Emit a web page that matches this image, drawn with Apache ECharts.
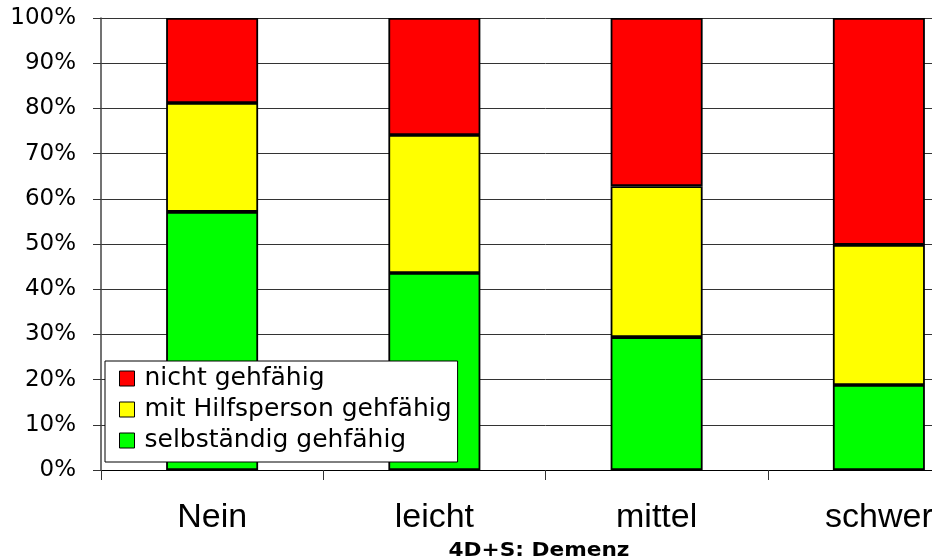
<!DOCTYPE html>
<html>
<head>
<meta charset="utf-8">
<script src="https://cdn.jsdelivr.net/npm/echarts@6/dist/echarts.min.js"></script>
<style>
  html, body { margin: 0; padding: 0; background: #fff; overflow: hidden; }
  /* the plot runs past the right edge of the page, so the canvas is wider than the window */
  #chart { width: 1000px; height: 559px; }
</style>
</head>
<body>
<div id="chart"></div>
<script>
// Demenz-Schweregrad (4D+S) und Gehfähigkeit, Anteile in Prozent
const categories = ['Nein', 'leicht', 'mittel', 'schwer'];
const selbstaendig = [57.1, 43.6, 29.4, 18.8];
const mitHilfsperson = [24.1, 30.5, 33.4, 31.0];
const nichtGehfaehig = [18.8, 25.9, 37.2, 50.2];
const yTicks = [0, 10, 20, 30, 40, 50, 60, 70, 80, 90, 100];

const SANS = 'Liberation Sans, Arial, Helvetica, sans-serif';
const WIDE = 'DejaVu Sans, Verdana, sans-serif';

const chart = echarts.init(document.getElementById('chart'), null, { renderer: 'canvas' });

function barSeries(name, data, color) {
  return {
    name: name,
    type: 'bar',
    stack: 'gesamt',
    data: data,
    barWidth: 92,
    itemStyle: { color: color, borderColor: '#000', borderWidth: 1.8 },
    emphasis: { disabled: true }
  };
}

chart.setOption({
  animation: false,
  backgroundColor: '#ffffff',
  grid: { left: 101, top: 18, width: 889, height: 452, containLabel: false },
  legend: {
    orient: 'vertical',
    left: 105,
    top: 361,
    data: ['nicht gehfähig', 'mit Hilfsperson gehfähig', 'selbständig gehfähig'],
    backgroundColor: '#ffffff',
    borderColor: '#000',
    borderWidth: 1,
    borderRadius: 0,
    padding: [5, 6, 9, 14],
    itemGap: 6,
    itemWidth: 15,
    itemHeight: 15,
    icon: 'rect',
    itemStyle: { borderColor: '#000', borderWidth: 1 },
    textStyle: { fontFamily: WIDE, fontSize: 25, color: '#000', padding: [0, 0, 0, 5] }
  },
  xAxis: {
    type: 'category',
    data: categories,
    axisLine: { lineStyle: { color: '#000', width: 1 } },
    axisTick: { show: true, length: 10, lineStyle: { color: '#333' } },
    axisLabel: { fontFamily: SANS, fontSize: 34, color: '#000', margin: 31 },
    splitLine: { show: false }
  },
  yAxis: {
    type: 'value',
    min: 0,
    max: 100,
    interval: 10,
    axisLine: { show: true, lineStyle: { color: '#444', width: 1.5 } },
    axisTick: { show: true, length: 8, lineStyle: { color: '#333' } },
    axisLabel: {
      fontFamily: WIDE, fontSize: 23, color: '#000', margin: 25,
      formatter: function (v) { return yTicks.indexOf(v) >= 0 ? v + '%' : ''; }
    },
    splitLine: { show: true, lineStyle: { color: '#333', width: 1 } }
  },
  series: [
    barSeries('selbständig gehfähig', selbstaendig, '#00ff00'),
    barSeries('mit Hilfsperson gehfähig', mitHilfsperson, '#ffff00'),
    barSeries('nicht gehfähig', nichtGehfaehig, '#ff0000')
  ],
  graphic: [{
    type: 'text',
    x: 539,
    y: 551,
    scaleX: 1.14,
    style: {
      text: '4D+S: Demenz',
      fontFamily: WIDE,
      fontWeight: 'bold',
      fontSize: 19,
      fill: '#000',
      align: 'center',
      verticalAlign: 'middle'
    }
  }]
});
</script>
</body>
</html>
